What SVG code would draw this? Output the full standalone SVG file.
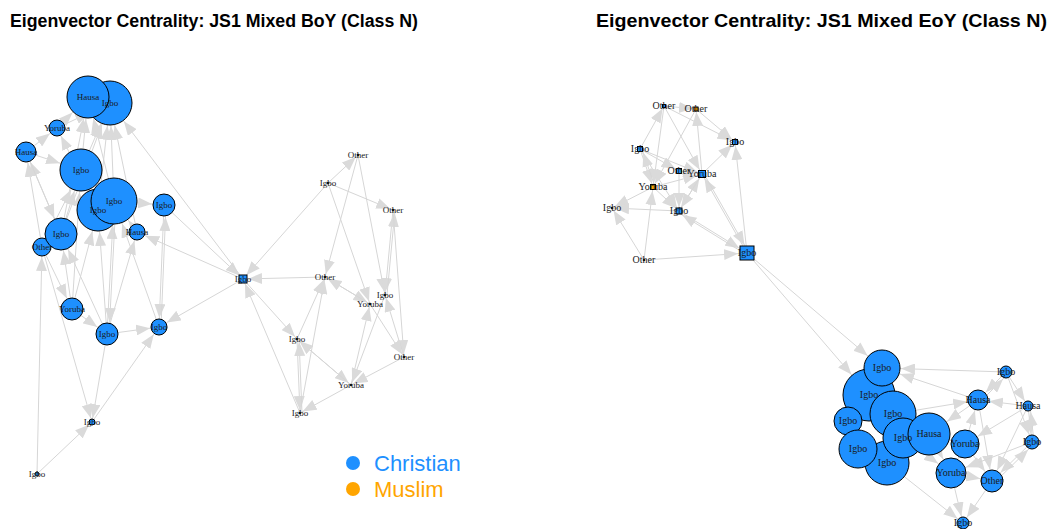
<svg xmlns="http://www.w3.org/2000/svg" width="1049" height="529" viewBox="0 0 1049 529">
<style>
.title{font-family:"Liberation Sans",Arial,sans-serif;font-weight:bold;fill:#000}
#edges line{stroke:#D6D6D6;stroke-width:1;fill:none}
marker path{fill:#DADADA}
.c{fill:#1E90FF;stroke:#000;stroke-width:1}
.m{fill:#FFA500;stroke:#000;stroke-width:1}
.d{fill:#111;stroke:none}
.lbl text{font-family:"Liberation Serif","Times New Roman",serif;fill:#1a1a1a;text-anchor:middle}
.l9{font-size:9px}
.l10{font-size:10px}
.leg{font-family:"Liberation Sans",Arial,sans-serif;font-size:22px}
</style>
<defs>
<marker id="a3" markerWidth="14" markerHeight="11" refX="17" refY="5.5" orient="auto" markerUnits="userSpaceOnUse"><path d="M0,0L14,5.5L0,11z"/></marker>
<marker id="a4" markerWidth="14" markerHeight="11" refX="18" refY="5.5" orient="auto" markerUnits="userSpaceOnUse"><path d="M0,0L14,5.5L0,11z"/></marker>
<marker id="a5" markerWidth="14" markerHeight="11" refX="19" refY="5.5" orient="auto" markerUnits="userSpaceOnUse"><path d="M0,0L14,5.5L0,11z"/></marker>
<marker id="a6" markerWidth="14" markerHeight="11" refX="20" refY="5.5" orient="auto" markerUnits="userSpaceOnUse"><path d="M0,0L14,5.5L0,11z"/></marker>
<marker id="a7" markerWidth="14" markerHeight="11" refX="21" refY="5.5" orient="auto" markerUnits="userSpaceOnUse"><path d="M0,0L14,5.5L0,11z"/></marker>
<marker id="a8" markerWidth="14" markerHeight="11" refX="22" refY="5.5" orient="auto" markerUnits="userSpaceOnUse"><path d="M0,0L14,5.5L0,11z"/></marker>
<marker id="a9" markerWidth="14" markerHeight="11" refX="23" refY="5.5" orient="auto" markerUnits="userSpaceOnUse"><path d="M0,0L14,5.5L0,11z"/></marker>
<marker id="a10" markerWidth="14" markerHeight="11" refX="24" refY="5.5" orient="auto" markerUnits="userSpaceOnUse"><path d="M0,0L14,5.5L0,11z"/></marker>
<marker id="a11" markerWidth="14" markerHeight="11" refX="25" refY="5.5" orient="auto" markerUnits="userSpaceOnUse"><path d="M0,0L14,5.5L0,11z"/></marker>
<marker id="a12" markerWidth="14" markerHeight="11" refX="26" refY="5.5" orient="auto" markerUnits="userSpaceOnUse"><path d="M0,0L14,5.5L0,11z"/></marker>
<marker id="a15" markerWidth="14" markerHeight="11" refX="29" refY="5.5" orient="auto" markerUnits="userSpaceOnUse"><path d="M0,0L14,5.5L0,11z"/></marker>
<marker id="a16" markerWidth="14" markerHeight="11" refX="30" refY="5.5" orient="auto" markerUnits="userSpaceOnUse"><path d="M0,0L14,5.5L0,11z"/></marker>
<marker id="a17" markerWidth="14" markerHeight="11" refX="31" refY="5.5" orient="auto" markerUnits="userSpaceOnUse"><path d="M0,0L14,5.5L0,11z"/></marker>
<marker id="a19" markerWidth="14" markerHeight="11" refX="33" refY="5.5" orient="auto" markerUnits="userSpaceOnUse"><path d="M0,0L14,5.5L0,11z"/></marker>
<marker id="a22" markerWidth="14" markerHeight="11" refX="36" refY="5.5" orient="auto" markerUnits="userSpaceOnUse"><path d="M0,0L14,5.5L0,11z"/></marker>
<marker id="a23" markerWidth="14" markerHeight="11" refX="37" refY="5.5" orient="auto" markerUnits="userSpaceOnUse"><path d="M0,0L14,5.5L0,11z"/></marker>
<marker id="a24" markerWidth="14" markerHeight="11" refX="38" refY="5.5" orient="auto" markerUnits="userSpaceOnUse"><path d="M0,0L14,5.5L0,11z"/></marker>
<marker id="a27" markerWidth="14" markerHeight="11" refX="41" refY="5.5" orient="auto" markerUnits="userSpaceOnUse"><path d="M0,0L14,5.5L0,11z"/></marker>
</defs>
<rect width="1049" height="529" fill="#fff"/>
<text class="title" x="10" y="27" font-size="17.5" textLength="408" lengthAdjust="spacingAndGlyphs">Eigenvector Centrality: JS1 Mixed BoY (Class N)</text>
<text class="title" x="596" y="27" font-size="19" textLength="451" lengthAdjust="spacingAndGlyphs">Eigenvector Centrality: JS1 Mixed EoY (Class N)</text>
<g id="edges">
<line x1="81" y1="170" x2="88" y2="97" marker-end="url(#a22)"/>
<line x1="81" y1="170" x2="110" y2="103" marker-end="url(#a23)"/>
<line x1="98" y1="210" x2="110" y2="103" marker-end="url(#a23)"/>
<line x1="114" y1="201" x2="110" y2="103" marker-end="url(#a23)"/>
<line x1="114" y1="201" x2="88" y2="97" marker-end="url(#a22)"/>
<line x1="61" y1="234" x2="88" y2="97" marker-end="url(#a22)"/>
<line x1="61" y1="234" x2="110" y2="103" marker-end="url(#a23)"/>
<line x1="57" y1="128" x2="110" y2="103" marker-end="url(#a23)"/>
<line x1="98" y1="210" x2="57" y2="128" marker-end="url(#a9)"/>
<line x1="26" y1="152" x2="81" y2="170" marker-end="url(#a22)"/>
<line x1="42" y1="247" x2="26" y2="152" marker-end="url(#a11)"/>
<line x1="61" y1="234" x2="26" y2="152" marker-end="url(#a11)"/>
<line x1="72" y1="309" x2="81" y2="170" marker-end="url(#a22)"/>
<line x1="72" y1="309" x2="61" y2="234" marker-end="url(#a17)"/>
<line x1="107" y1="334" x2="114" y2="201" marker-end="url(#a24)"/>
<line x1="107" y1="334" x2="98" y2="210" marker-end="url(#a22)"/>
<line x1="159" y1="327" x2="114" y2="201" marker-end="url(#a24)"/>
<line x1="72" y1="309" x2="107" y2="334" marker-end="url(#a12)"/>
<line x1="107" y1="334" x2="159" y2="327" marker-end="url(#a9)"/>
<line x1="243" y1="279" x2="159" y2="327" marker-end="url(#a9)"/>
<line x1="92" y1="422" x2="159" y2="327" marker-end="url(#a9)"/>
<line x1="37" y1="474" x2="92" y2="422" marker-end="url(#a4)"/>
<line x1="37" y1="474" x2="42" y2="247" marker-end="url(#a10)"/>
<line x1="107" y1="334" x2="92" y2="422" marker-end="url(#a4)"/>
<line x1="42" y1="247" x2="92" y2="422" marker-end="url(#a4)"/>
<line x1="164" y1="205" x2="159" y2="327" marker-end="url(#a9)"/>
<line x1="161" y1="327" x2="166" y2="205" marker-end="url(#a12)"/>
<line x1="107" y1="334" x2="137" y2="232" marker-end="url(#a9)"/>
<line x1="114" y1="201" x2="164" y2="205" marker-end="url(#a12)"/>
<line x1="164" y1="205" x2="243" y2="279" marker-end="url(#a5)"/>
<line x1="243" y1="279" x2="137" y2="232" marker-end="url(#a9)"/>
<line x1="243" y1="279" x2="110" y2="103" marker-end="url(#a23)"/>
<line x1="57" y1="128" x2="88" y2="97" marker-end="url(#a22)"/>
<line x1="26" y1="152" x2="57" y2="128" marker-end="url(#a9)"/>
<line x1="42" y1="247" x2="81" y2="170" marker-end="url(#a22)"/>
<line x1="61" y1="234" x2="81" y2="170" marker-end="url(#a22)"/>
<line x1="137" y1="232" x2="114" y2="201" marker-end="url(#a24)"/>
<line x1="137" y1="232" x2="110" y2="103" marker-end="url(#a23)"/>
<line x1="42" y1="247" x2="72" y2="309" marker-end="url(#a12)"/>
<line x1="107" y1="334" x2="61" y2="234" marker-end="url(#a17)"/>
<line x1="72" y1="309" x2="98" y2="210" marker-end="url(#a22)"/>
<line x1="116" y1="201" x2="109" y2="334" marker-end="url(#a12)"/>
<line x1="26" y1="152" x2="61" y2="234" marker-end="url(#a17)"/>
<line x1="328" y1="183" x2="358" y2="155" marker-end="url(#a3)"/>
<line x1="328" y1="183" x2="393" y2="210" marker-end="url(#a3)"/>
<line x1="328" y1="183" x2="243" y2="279" marker-end="url(#a5)"/>
<line x1="328" y1="183" x2="370" y2="304" marker-end="url(#a3)"/>
<line x1="358" y1="155" x2="325" y2="277" marker-end="url(#a3)"/>
<line x1="358" y1="155" x2="385" y2="295" marker-end="url(#a3)"/>
<line x1="393" y1="210" x2="385" y2="295" marker-end="url(#a3)"/>
<line x1="387" y1="295" x2="395" y2="210" marker-end="url(#a3)"/>
<line x1="393" y1="210" x2="404" y2="357" marker-end="url(#a3)"/>
<line x1="325" y1="277" x2="243" y2="279" marker-end="url(#a5)"/>
<line x1="325" y1="277" x2="370" y2="304" marker-end="url(#a3)"/>
<line x1="370" y1="304" x2="325" y2="277" marker-end="url(#a3)"/>
<line x1="297" y1="339" x2="325" y2="277" marker-end="url(#a3)"/>
<line x1="300" y1="413" x2="325" y2="277" marker-end="url(#a3)"/>
<line x1="297" y1="339" x2="351" y2="385" marker-end="url(#a3)"/>
<line x1="351" y1="385" x2="297" y2="339" marker-end="url(#a3)"/>
<line x1="297" y1="339" x2="300" y2="413" marker-end="url(#a3)"/>
<line x1="302" y1="413" x2="299" y2="339" marker-end="url(#a3)"/>
<line x1="351" y1="385" x2="300" y2="413" marker-end="url(#a3)"/>
<line x1="351" y1="385" x2="370" y2="304" marker-end="url(#a3)"/>
<line x1="385" y1="295" x2="351" y2="385" marker-end="url(#a3)"/>
<line x1="404" y1="357" x2="351" y2="385" marker-end="url(#a3)"/>
<line x1="404" y1="357" x2="385" y2="295" marker-end="url(#a3)"/>
<line x1="370" y1="304" x2="404" y2="357" marker-end="url(#a3)"/>
<line x1="300" y1="413" x2="243" y2="279" marker-end="url(#a5)"/>
<line x1="243" y1="279" x2="297" y2="339" marker-end="url(#a3)"/>
<line x1="640" y1="149" x2="664" y2="106" marker-end="url(#a3)"/>
<line x1="664" y1="106" x2="696" y2="109" marker-end="url(#a3)"/>
<line x1="664" y1="106" x2="735" y2="142" marker-end="url(#a4)"/>
<line x1="696" y1="109" x2="735" y2="142" marker-end="url(#a4)"/>
<line x1="702" y1="174" x2="696" y2="109" marker-end="url(#a3)"/>
<line x1="702" y1="174" x2="735" y2="142" marker-end="url(#a4)"/>
<line x1="747" y1="253" x2="735" y2="142" marker-end="url(#a4)"/>
<line x1="640" y1="149" x2="702" y2="174" marker-end="url(#a5)"/>
<line x1="679" y1="171" x2="702" y2="174" marker-end="url(#a5)"/>
<line x1="679" y1="211" x2="702" y2="174" marker-end="url(#a5)"/>
<line x1="653" y1="187" x2="702" y2="174" marker-end="url(#a5)"/>
<line x1="747" y1="253" x2="702" y2="174" marker-end="url(#a5)"/>
<line x1="664" y1="106" x2="702" y2="174" marker-end="url(#a5)"/>
<line x1="653" y1="187" x2="612" y2="208" marker-end="url(#a3)"/>
<line x1="679" y1="211" x2="612" y2="208" marker-end="url(#a3)"/>
<line x1="644" y1="260" x2="612" y2="208" marker-end="url(#a3)"/>
<line x1="644" y1="260" x2="653" y2="187" marker-end="url(#a4)"/>
<line x1="644" y1="260" x2="747" y2="253" marker-end="url(#a9)"/>
<line x1="702" y1="174" x2="679" y2="211" marker-end="url(#a4)"/>
<line x1="679" y1="171" x2="679" y2="211" marker-end="url(#a4)"/>
<line x1="640" y1="149" x2="679" y2="211" marker-end="url(#a4)"/>
<line x1="679" y1="211" x2="747" y2="253" marker-end="url(#a9)"/>
<line x1="704" y1="174" x2="749" y2="253" marker-end="url(#a9)"/>
<line x1="747" y1="255" x2="679" y2="213" marker-end="url(#a4)"/>
<line x1="640" y1="149" x2="653" y2="187" marker-end="url(#a4)"/>
<line x1="655" y1="187" x2="642" y2="149" marker-end="url(#a4)"/>
<line x1="664" y1="106" x2="653" y2="187" marker-end="url(#a4)"/>
<line x1="696" y1="109" x2="653" y2="187" marker-end="url(#a4)"/>
<line x1="653" y1="187" x2="679" y2="211" marker-end="url(#a4)"/>
<line x1="640" y1="149" x2="679" y2="171" marker-end="url(#a4)"/>
<line x1="747" y1="253" x2="882" y2="368" marker-end="url(#a19)"/>
<line x1="747" y1="253" x2="869" y2="395" marker-end="url(#a27)"/>
<line x1="1006" y1="372" x2="882" y2="368" marker-end="url(#a19)"/>
<line x1="978" y1="400" x2="882" y2="368" marker-end="url(#a19)"/>
<line x1="893" y1="414" x2="978" y2="400" marker-end="url(#a11)"/>
<line x1="1006" y1="372" x2="978" y2="400" marker-end="url(#a11)"/>
<line x1="980" y1="402" x2="1008" y2="374" marker-end="url(#a7)"/>
<line x1="1028" y1="406" x2="978" y2="400" marker-end="url(#a11)"/>
<line x1="1006" y1="372" x2="1028" y2="406" marker-end="url(#a6)"/>
<line x1="1028" y1="406" x2="1032" y2="442" marker-end="url(#a8)"/>
<line x1="1034" y1="442" x2="1030" y2="406" marker-end="url(#a6)"/>
<line x1="978" y1="400" x2="992" y2="481" marker-end="url(#a12)"/>
<line x1="1032" y1="442" x2="992" y2="481" marker-end="url(#a12)"/>
<line x1="994" y1="483" x2="1034" y2="444" marker-end="url(#a8)"/>
<line x1="965" y1="444" x2="978" y2="400" marker-end="url(#a11)"/>
<line x1="1028" y1="406" x2="965" y2="444" marker-end="url(#a15)"/>
<line x1="951" y1="473" x2="963" y2="523" marker-end="url(#a7)"/>
<line x1="992" y1="481" x2="963" y2="523" marker-end="url(#a7)"/>
<line x1="887" y1="463" x2="963" y2="523" marker-end="url(#a7)"/>
<line x1="965" y1="444" x2="992" y2="481" marker-end="url(#a12)"/>
<line x1="929" y1="434" x2="951" y2="473" marker-end="url(#a16)"/>
<line x1="1032" y1="442" x2="951" y2="473" marker-end="url(#a16)"/>
<line x1="951" y1="473" x2="992" y2="481" marker-end="url(#a12)"/>
<line x1="929" y1="434" x2="965" y2="444" marker-end="url(#a15)"/>
<line x1="978" y1="400" x2="929" y2="434" marker-end="url(#a22)"/>
<line x1="965" y1="444" x2="951" y2="473" marker-end="url(#a16)"/>
<line x1="903" y1="438" x2="951" y2="473" marker-end="url(#a16)"/>
<line x1="1028" y1="406" x2="992" y2="481" marker-end="url(#a12)"/>
<line x1="1006" y1="372" x2="1032" y2="442" marker-end="url(#a8)"/>
</g>
<g id="nodes-boy">
<g id="b-igbo-1"><circle class="c" cx="110" cy="103" r="22"/></g>
<g id="b-hausa-1"><circle class="c" cx="88" cy="97" r="21"/></g>
<g id="b-yoruba-1"><circle class="c" cx="57" cy="128" r="8"/></g>
<g id="b-hausa-2"><circle class="c" cx="26" cy="152" r="10"/></g>
<g id="b-igbo-2"><circle class="c" cx="81" cy="170" r="21"/></g>
<g id="b-igbo-3"><circle class="c" cx="98" cy="210" r="21"/></g>
<g id="b-igbo-4"><circle class="c" cx="114" cy="201" r="23"/></g>
<g id="b-igbo-5"><circle class="c" cx="164" cy="205" r="11"/></g>
<g id="b-hausa-3"><circle class="c" cx="137" cy="232" r="8"/></g>
<g id="b-other-1"><circle class="c" cx="42" cy="247" r="9"/></g>
<g id="b-igbo-6"><circle class="c" cx="61" cy="234" r="16"/></g>
<g id="b-yoruba-2"><circle class="c" cx="72" cy="309" r="11"/></g>
<g id="b-igbo-7"><circle class="c" cx="107" cy="334" r="11"/></g>
<g id="b-igbo-8"><circle class="c" cx="159" cy="327" r="8"/></g>
<g id="b-igbo-9"><rect class="c" x="239" y="275" width="8" height="8"/></g>
<g id="b-igbo-10"><circle class="c" cx="92" cy="422" r="3"/></g>
<g id="b-igbo-11"><circle class="c" cx="37" cy="474" r="2"/></g>
<g id="b-other-2"><circle class="d" cx="358" cy="155" r="1.3"/></g>
<g id="b-igbo-12"><circle class="d" cx="328" cy="183" r="1.3"/></g>
<g id="b-other-3"><circle class="d" cx="393" cy="210" r="1.3"/></g>
<g id="b-other-4"><circle class="d" cx="325" cy="277" r="1.3"/></g>
<g id="b-igbo-13"><circle class="d" cx="385" cy="295" r="1.3"/></g>
<g id="b-yoruba-3"><circle class="d" cx="370" cy="304" r="1.3"/></g>
<g id="b-other-5"><circle class="d" cx="404" cy="357" r="1.3"/></g>
<g id="b-igbo-14"><circle class="d" cx="297" cy="339" r="1.3"/></g>
<g id="b-yoruba-4"><circle class="d" cx="351" cy="385" r="1.3"/></g>
<g id="b-igbo-15"><circle class="d" cx="300" cy="413" r="1.3"/></g>
</g>
<g id="nodes-eoy">
<g id="e-other-1"><rect class="c" x="662.5" y="104.5" width="3" height="3"/></g>
<g id="e-other-2"><rect class="m" x="694" y="107" width="4" height="4"/></g>
<g id="e-igbo-1"><rect class="c" x="732.5" y="139.5" width="5" height="5"/></g>
<g id="e-igbo-2"><rect class="c" x="637.5" y="146.5" width="5" height="5"/></g>
<g id="e-other-3"><rect class="c" x="676.5" y="168.5" width="5" height="5"/></g>
<g id="e-yoruba-1"><rect class="c" x="698.5" y="170.5" width="7" height="7"/></g>
<g id="e-yoruba-2"><rect class="m" x="650.5" y="184.5" width="5" height="5"/></g>
<g id="e-igbo-3"><circle class="d" cx="612" cy="208" r="1.3"/></g>
<g id="e-igbo-4"><rect class="c" x="676" y="208" width="6" height="6"/></g>
<g id="e-other-4"><circle class="d" cx="644" cy="260" r="1.3"/></g>
<g id="e-igbo-5"><rect class="c" x="740" y="246" width="14" height="14"/></g>
<g id="e-igbo-6"><circle class="c" cx="869" cy="395" r="26"/></g>
<g id="e-igbo-7"><circle class="c" cx="887" cy="463" r="22"/></g>
<g id="e-igbo-8"><circle class="c" cx="882" cy="368" r="18"/></g>
<g id="e-igbo-9"><circle class="c" cx="893" cy="414" r="23"/></g>
<g id="e-igbo-10"><circle class="c" cx="848" cy="421" r="14"/></g>
<g id="e-igbo-11"><circle class="c" cx="858" cy="449" r="19"/></g>
<g id="e-igbo-12"><circle class="c" cx="903" cy="438" r="20"/></g>
<g id="e-hausa-1"><circle class="c" cx="929" cy="434" r="21"/></g>
<g id="e-yoruba-3"><circle class="c" cx="965" cy="444" r="14"/></g>
<g id="e-yoruba-4"><circle class="c" cx="951" cy="473" r="15"/></g>
<g id="e-other-5"><circle class="c" cx="992" cy="481" r="11"/></g>
<g id="e-hausa-2"><circle class="c" cx="978" cy="400" r="10"/></g>
<g id="e-igbo-13"><circle class="c" cx="1006" cy="372" r="6"/></g>
<g id="e-hausa-3"><circle class="c" cx="1028" cy="406" r="5"/></g>
<g id="e-igbo-14"><circle class="c" cx="1032" cy="442" r="7"/></g>
<g id="e-igbo-15"><circle class="c" cx="963" cy="523" r="6"/></g>
</g>
<g id="labels" class="lbl">
<g class="l9">
<text x="110" y="103" dy=".32em">Igbo</text>
<text x="88" y="97" dy=".32em">Hausa</text>
<text x="57" y="128" dy=".32em">Yoruba</text>
<text x="26" y="152" dy=".32em">Hausa</text>
<text x="81" y="170" dy=".32em">Igbo</text>
<text x="98" y="210" dy=".32em">Igbo</text>
<text x="114" y="201" dy=".32em">Igbo</text>
<text x="164" y="205" dy=".32em">Igbo</text>
<text x="137" y="232" dy=".32em">Hausa</text>
<text x="42" y="247" dy=".32em">Other</text>
<text x="61" y="234" dy=".32em">Igbo</text>
<text x="72" y="309" dy=".32em">Yoruba</text>
<text x="107" y="334" dy=".32em">Igbo</text>
<text x="159" y="327" dy=".32em">Igbo</text>
<text x="243" y="279" dy=".32em">Igbo</text>
<text x="92" y="422" dy=".32em">Igbo</text>
<text x="37" y="474" dy=".32em">Igbo</text>
<text x="358" y="155" dy=".32em">Other</text>
<text x="328" y="183" dy=".32em">Igbo</text>
<text x="393" y="210" dy=".32em">Other</text>
<text x="325" y="277" dy=".32em">Other</text>
<text x="385" y="295" dy=".32em">Igbo</text>
<text x="370" y="304" dy=".32em">Yoruba</text>
<text x="404" y="357" dy=".32em">Other</text>
<text x="297" y="339" dy=".32em">Igbo</text>
<text x="351" y="385" dy=".32em">Yoruba</text>
<text x="300" y="413" dy=".32em">Igbo</text>
</g>
<g class="l10">
<text x="664" y="106" dy=".32em">Other</text>
<text x="696" y="109" dy=".32em">Other</text>
<text x="735" y="142" dy=".32em">Igbo</text>
<text x="640" y="149" dy=".32em">Igbo</text>
<text x="679" y="171" dy=".32em">Other</text>
<text x="702" y="174" dy=".32em">Yoruba</text>
<text x="653" y="187" dy=".32em">Yoruba</text>
<text x="612" y="208" dy=".32em">Igbo</text>
<text x="679" y="211" dy=".32em">Igbo</text>
<text x="644" y="260" dy=".32em">Other</text>
<text x="747" y="253" dy=".32em">Igbo</text>
<text x="869" y="395" dy=".32em">Igbo</text>
<text x="887" y="463" dy=".32em">Igbo</text>
<text x="882" y="368" dy=".32em">Igbo</text>
<text x="893" y="414" dy=".32em">Igbo</text>
<text x="848" y="421" dy=".32em">Igbo</text>
<text x="858" y="449" dy=".32em">Igbo</text>
<text x="903" y="438" dy=".32em">Igbo</text>
<text x="929" y="434" dy=".32em">Hausa</text>
<text x="965" y="444" dy=".32em">Yoruba</text>
<text x="951" y="473" dy=".32em">Yoruba</text>
<text x="992" y="481" dy=".32em">Other</text>
<text x="978" y="400" dy=".32em">Hausa</text>
<text x="1006" y="372" dy=".32em">Igbo</text>
<text x="1028" y="406" dy=".32em">Hausa</text>
<text x="1032" y="442" dy=".32em">Igbo</text>
<text x="963" y="523" dy=".32em">Igbo</text>
</g>
</g>
<g id="legend">
<circle cx="353" cy="463" r="7" fill="#1E90FF"/>
<text class="leg" x="374" y="471" fill="#1E90FF">Christian</text>
<circle cx="353" cy="489" r="7" fill="#FFA500"/>
<text class="leg" x="374" y="497" fill="#FFA500">Muslim</text>
</g>
</svg>
